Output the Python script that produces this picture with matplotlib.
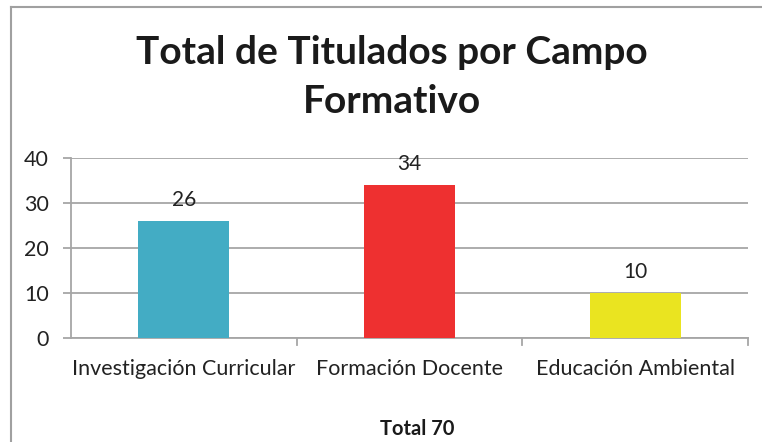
import matplotlib
matplotlib.use("Agg")
import matplotlib.pyplot as plt
from matplotlib.lines import Line2D

categories = ["Investigación Curricular", "Formación Docente", "Educación Ambiental"]
values = [26, 34, 10]
colors = ["#43ACC4", "#EE3030", "#EAE420"]
yticks = [0, 10, 20, 30, 40]
title = "Total de Titulados por Campo\nFormativo"
xlabel = "Total 70"

plt.rcParams['font.family'] = ['Lato', 'DejaVu Sans']

W, H = 762, 442
fig = plt.figure(figsize=(W/100, H/100), dpi=100)
ax = fig.add_axes([71/W, 1-338.3/H, (748-71)/W, (338.3-157.7)/H])

x = list(range(len(categories)))
bars = ax.bar(x, values, width=0.403, color=colors, zorder=3)
for xi, v in zip(x, values):
    ax.annotate(str(v), (xi, v), xytext=(0, 11), textcoords='offset pixels',
                ha='center', va='bottom', fontsize=15, color='#222222')

ax.set_xlim(-0.5, len(categories)-0.5)
ax.set_ylim(0, 40)
ax.set_yticks(yticks)
ax.set_yticklabels([str(t) for t in yticks], fontsize=15.5, color='#222222')
ax.yaxis.grid(True, color='#A6A6A6', linewidth=1.3, zorder=0)
ax.set_xticks(x)
ax.set_xticklabels(categories, fontsize=15.5, color='#222222')
ax.tick_params(axis='x', length=0, pad=15)
ax.tick_params(axis='y', length=6, color='#A6A6A6', width=1.3, pad=10)
for b in [0.5, 1.5, 2.5]:
    ax.plot([b, b], [0, -0.035], transform=ax.get_xaxis_transform(),
            color='#A6A6A6', lw=1.3, clip_on=False)
for s in ['top', 'right']:
    ax.spines[s].set_visible(False)
ax.spines['left'].set_color('#A6A6A6')
ax.spines['left'].set_linewidth(1.3)
ax.spines['bottom'].set_color('#A6A6A6')
ax.spines['bottom'].set_linewidth(1.3)

fig.text(392/W, 1-77/H, title, ha='center', va='center', fontsize=28,
         fontweight='bold', color='#1a1a1a', linespacing=1.5)
fig.text(417/W, 1-429/H, xlabel, ha='center', va='center', fontsize=14.5,
         fontweight='bold', color='#1a1a1a')

fig.add_artist(Line2D([10.5/W, 10.5/W], [0, 1-7/H], color='#A0A0A0', lw=1.5))
fig.add_artist(Line2D([10.5/W, 1], [1-7/H, 1-7/H], color='#A0A0A0', lw=1.5))

fig.savefig("out.png", dpi=100)
